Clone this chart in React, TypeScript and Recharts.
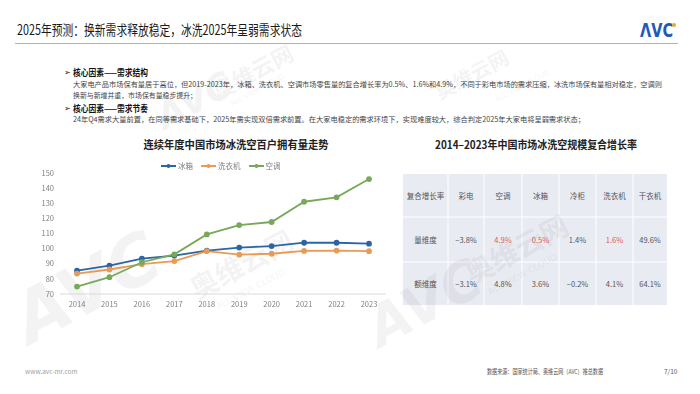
import React from 'react';
import { LineChart, Line, XAxis, YAxis, Legend } from 'recharts';

const years = ['2014', '2015', '2016', '2017', '2018', '2019', '2020', '2021', '2022', '2023'];
const fridge = [85.4, 88.8, 93.4, 95.4, 98.7, 100.7, 101.7, 103.9, 103.9, 103.3];
const washer = [83.5, 86.2, 89.7, 91.8, 98.4, 96.0, 96.6, 98.5, 98.7, 98.3];
const aircon = [74.9, 81.1, 91.0, 96.2, 109.4, 115.6, 117.6, 131.0, 133.9, 146.0];
const yTicks = [70, 80, 90, 100, 110, 120, 130, 140, 150];

const seriesNames = ['冰箱', '洗衣机', '空调'];
const seriesColors = ['#2b65a3', '#e99a55', '#78a95a'];

const tableHeader = ['复合增长率', '彩电', '空调', '冰箱', '冷柜', '洗衣机', '干衣机'];
const volumeRow = ['量维度', '−3.8%', '4.9%', '0.5%', '1.4%', '1.6%', '49.6%'];
const valueRow = ['额维度', '−3.1%', '4.8%', '3.6%', '−0.2%', '4.1%', '64.1%'];
const volumeHighlight = [false, false, true, true, false, true, false];

const data = years.map((y, i) => ({ year: y, fridge: fridge[i], washer: washer[i], aircon: aircon[i] }));

const FONT = '"Noto Sans CJK SC", "Noto Sans", sans-serif';

const colX = [403, 448, 484, 522, 559, 596, 633, 667];
const rowY = [174, 217, 262, 305];

function LegendContent() {
  return (
    <div style={{ display: 'flex', height: 15, alignItems: 'center', paddingLeft: 161, fontFamily: FONT, fontSize: 7.5, color: '#7f7f7f' }}>
      {seriesNames.map((n, i) => (
        <div key={n} style={{ display: 'flex', alignItems: 'center', marginRight: 8 }}>
          <svg width={15} height={6} style={{ marginRight: 2 }}>
            <line x1={0} y1={3} x2={15} y2={3} stroke={seriesColors[i]} strokeWidth={2} />
            <circle cx={7.5} cy={3} r={2} fill={seriesColors[i]} />
          </svg>
          <span>{n}</span>
        </div>
      ))}
    </div>
  );
}

function WM({ x, y, size, text, latin }: { x: number; y: number; size: number; text: string; latin?: boolean }) {
  return (
    <text
      x={x}
      y={y}
      fontSize={size}
      fontWeight={latin && size < 20 ? 400 : 700}
      fontStyle={latin && size >= 20 ? 'italic' : 'normal'}
      fontFamily={latin ? 'DejaVu Sans' : FONT}
      transform={`rotate(-28 ${x} ${y})`}
    >
      {text}
    </text>
  );
}

export default function App() {
  return (
    <div style={{ position: 'absolute', left: 0, top: 0, width: 700, height: 394, background: '#fff', overflow: 'hidden' }}>
      <svg width={700} height={394} style={{ position: 'absolute', left: 0, top: 0 }} fontFamily={FONT}>
        {/* header */}
        <text x={17} y={35} fontSize={14} fill="#1a1a1a" textLength={285} lengthAdjust="spacingAndGlyphs">2025年预测：换新需求释放稳定，冰洗2025年呈弱需求状态</text>
        <text x={640} y={37} fontSize={19} fontWeight={700} fill="#1f5bb5" fontFamily="DejaVu Sans" textLength={33} lengthAdjust="spacingAndGlyphs">ΛVC</text>
        <circle cx={674} cy={25} r={2} fill="#f0a820" />
        <line x1={15} y1={43.5} x2={678} y2={43.5} stroke="#9db5c8" strokeWidth={1} />

        {/* bullets */}
        <text x={64} y={75} fontSize={8} fill="#222">➢</text>
        <text x={73} y={75.5} fontSize={9} fontWeight={700} fill="#111" textLength={75} lengthAdjust="spacingAndGlyphs">核心因素——需求结构</text>
        <text x={73} y={87} fontSize={7} fill="#444" textLength={589} lengthAdjust="spacingAndGlyphs">大家电产品市场保有量居于高位，但2019-2023年，冰箱、洗衣机、空调市场零售量的复合增长率为0.5%、1.6%和4.9%，不同于彩电市场的需求压缩，冰洗市场保有量相对稳定，空调则</text>
        <text x={73} y={98} fontSize={7} fill="#444" textLength={124} lengthAdjust="spacingAndGlyphs">换新与新增并重，市场保有量稳步提升；</text>
        <text x={64} y={111} fontSize={8} fill="#222">➢</text>
        <text x={73} y={111.5} fontSize={9} fontWeight={700} fill="#111" textLength={75} lengthAdjust="spacingAndGlyphs">核心因素——需求节奏</text>
        <text x={73} y={122} fontSize={7} fill="#444" textLength={512} lengthAdjust="spacingAndGlyphs">24年Q4需求大量前置，在同等需求基础下，2025年需实现双倍需求前置。在大家电稳定的需求环境下，实现难度较大，综合判定2025年大家电将呈弱需求状态；</text>

        {/* chart titles */}
        <text x={236} y={149} fontSize={11} fontWeight={700} fill="#222" textAnchor="middle" textLength={185} lengthAdjust="spacingAndGlyphs">连续年度中国市场冰洗空百户拥有量走势</text>
        <text x={536} y={149} fontSize={11} fontWeight={700} fill="#222" textAnchor="middle" textLength={202} lengthAdjust="spacingAndGlyphs">2014–2023年中国市场冰洗空规模复合增长率</text>

        {/* table */}
        <rect x={colX[0]} y={rowY[0]} width={colX[7] - colX[0]} height={rowY[3] - rowY[0]} fill="#e9ebf3" />
        {colX.slice(1, 7).map((x) => (
          <line key={'c' + x} x1={x} y1={rowY[0]} x2={x} y2={rowY[3]} stroke="#fff" strokeWidth={1} />
        ))}
        {rowY.slice(1, 3).map((y) => (
          <line key={'r' + y} x1={colX[0]} y1={y} x2={colX[7]} y2={y} stroke="#fff" strokeWidth={1} />
        ))}
        {[tableHeader, volumeRow, valueRow].map((row, r) =>
          row.map((cell, c) => (
            <text
              key={r + '-' + c}
              x={(colX[c] + colX[c + 1]) / 2}
              y={(rowY[r] + rowY[r + 1]) / 2 + 3}
              fontSize={7.5}
              textAnchor="middle"
              fill={r === 1 && volumeHighlight[c] ? '#e0575b' : '#555'}
            >
              {cell}
            </text>
          ))
        )}

        {/* footer */}
        <text x={25} y={374} fontSize={6.5} fill="#a0a0a0">www.avc-mr.com</text>
        <text x={487} y={374} fontSize={6.5} fill="#555" textLength={116} lengthAdjust="spacingAndGlyphs">数据来源：国家统计局、奥维云网（AVC）推总数据</text>
        <text x={664} y={374} fontSize={6.5} fill="#555">7/10</text>

        {/* watermarks */}
        <g opacity={0.05} fill="#000">
          <WM x={30} y={345} size={70} text="AVC" latin />
          <WM x={197} y={300} size={28} text="奥维云网" />
          <WM x={218} y={310} size={9} text="ALL VIEW CLOUD" latin />
          <WM x={380} y={348} size={55} text="AVC" latin />
          <WM x={472} y={285} size={28} text="奥维云网" />
          <WM x={490} y={295} size={9} text="ALL VIEW CLOUD" latin />
          <WM x={165} y={130} size={36} text="AVC" latin />
          <WM x={218} y={100} size={22} text="奥维云网" />
          <WM x={232} y={106} size={7} text="ALL VIEW CLOUD" latin />
          <WM x={440} y={100} size={20} text="奥维云网" />
          <WM x={497} y={102} size={7} text="ALL VIEW CLOUD" latin />
        </g>
      </svg>

      <div style={{ position: 'absolute', left: 0, top: 150 }}>
        <LineChart width={390} height={164} data={data} margin={{ top: 8, right: 4, bottom: 0, left: 0 }}>
          <Legend verticalAlign="top" align="left" content={LegendContent} />
          <XAxis
            dataKey="year"
            padding={{ left: 17, right: 17 }}
            tickLine={false}
            axisLine={{ stroke: '#d9d9d9' }}
            tick={{ fontSize: 7.5, fill: '#7f7f7f', fontFamily: FONT }}
            height={20}
            interval={0}
          />
          <YAxis
            domain={[70, 150]}
            ticks={yTicks}
            width={60}
            axisLine={false}
            tickLine={false}
            tickMargin={0}
            tick={{ fontSize: 7.5, fill: '#7f7f7f', fontFamily: FONT }}
            interval={0}
          />
          <Line dataKey="fridge" name={seriesNames[0]} stroke={seriesColors[0]} strokeWidth={1.8} dot={{ r: 2, fill: seriesColors[0], stroke: seriesColors[0] }} isAnimationActive={false} />
          <Line dataKey="washer" name={seriesNames[1]} stroke={seriesColors[1]} strokeWidth={1.8} dot={{ r: 2, fill: seriesColors[1], stroke: seriesColors[1] }} isAnimationActive={false} />
          <Line dataKey="aircon" name={seriesNames[2]} stroke={seriesColors[2]} strokeWidth={1.8} dot={{ r: 2, fill: seriesColors[2], stroke: seriesColors[2] }} isAnimationActive={false} />
        </LineChart>
      </div>
    </div>
  );
}
